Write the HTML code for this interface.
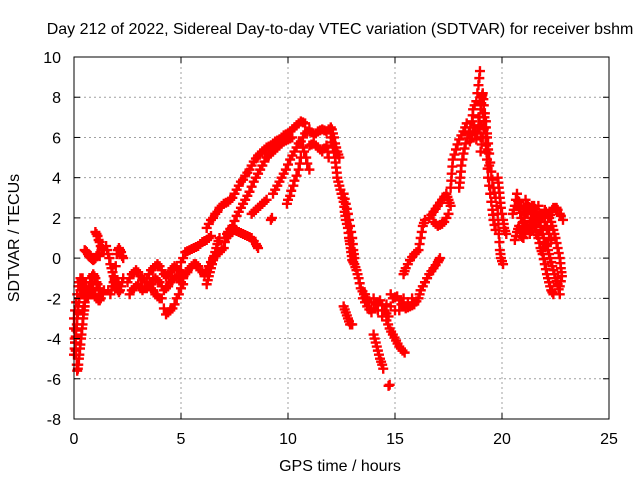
<!DOCTYPE html>
<html><head><meta charset="utf-8"><style>
body{margin:0;background:#fff;}
svg{display:block;font-family:"Liberation Sans",sans-serif;}
</style></head><body>
<svg id="chart" width="640" height="480" viewBox="0 0 640 480">
<text x="340" y="34" font-size="16" text-anchor="middle">Day 212 of 2022, Sidereal Day-to-day VTEC variation (SDTVAR) for receiver bshm</text>
<g id="grid"></g>
<g id="marks"></g>
<rect x="74" y="57" width="535" height="362" fill="none" stroke="#000" stroke-width="1"/>
<g id="ticks"></g>
<text x="340" y="471" font-size="16" text-anchor="middle">GPS time / hours</text>
<text x="19" y="238" font-size="16" text-anchor="middle" transform="rotate(-90 19 238)">SDTVAR / TECUs</text>
</svg>
<script>
const xTicks=[0,5,10,15,20,25];
const yTicks=[-8,-6,-4,-2,0,2,4,6,8,10];
const tracks=[
[[0.0,-3.5],[0.03,-4.0],[0.05,-4.2],[0.08,-4.6],[0.1,-4.8],[0.13,-5.3],[0.15,-5.6],[0.18,-5.5],[0.2,-5.3],[0.23,-5.0],[0.25,-4.8],[0.28,-4.5],[0.3,-4.3],[0.33,-4.0],[0.35,-3.8],[0.38,-3.5],[0.4,-3.3],[0.43,-3.0],[0.45,-2.8],[0.48,-2.6],[0.5,-2.4]],
[[0.0,-4.8],[0.03,-4.5],[0.05,-4.2],[0.08,-3.9],[0.1,-3.6],[0.13,-3.3],[0.15,-3.0],[0.18,-2.7],[0.2,-2.4],[0.23,-2.2],[0.25,-2.0],[0.28,-1.8],[0.3,-1.6],[0.33,-1.4],[0.35,-1.2],[0.38,-1.1],[0.4,-1.0]],
[[0.0,-3.0],[0.05,-2.6],[0.1,-2.2],[0.15,-1.8],[0.2,-1.4],[0.25,-1.2],[0.3,-1.0],[0.35,-1.1],[0.4,-1.3],[0.45,-1.5],[0.5,-1.7],[0.55,-1.9],[0.6,-2.0],[0.65,-1.9],[0.7,-1.8],[0.75,-1.6],[0.8,-1.5],[0.85,-1.5],[0.9,-1.6],[0.95,-1.8],[1.0,-1.9],[1.05,-2.0],[1.1,-2.0],[1.15,-2.1],[1.2,-2.1],[1.25,-2.0],[1.3,-1.8],[1.35,-1.7],[1.4,-1.6]],
[[0.4,-2.6],[0.45,-2.4],[0.5,-2.2],[0.55,-2.0],[0.6,-1.8],[0.65,-1.6],[0.7,-1.4],[0.75,-1.2],[0.8,-1.0],[0.85,-0.9],[0.9,-0.8],[0.95,-0.9],[1.0,-1.0],[1.05,-1.2],[1.1,-1.3],[1.15,-1.5],[1.2,-1.6]],
[[0.5,0.4],[0.55,0.35],[0.6,0.3],[0.65,0.2],[0.7,0.1],[0.75,0.05],[0.8,0.0],[0.85,-0.05],[0.9,-0.1],[0.95,-0.05],[1.0,0.0],[1.05,0.1],[1.1,0.2],[1.15,0.15],[1.2,0.1]],
[[1.0,1.3],[1.05,1.2],[1.1,1.1],[1.15,0.9],[1.2,0.8],[1.25,0.6],[1.3,0.5],[1.35,0.45],[1.4,0.4]],
[[1.5,0.6],[1.55,0.4],[1.6,0.2],[1.65,0.0],[1.7,-0.3],[1.75,-0.5],[1.8,-0.7],[1.85,-0.9],[1.9,-1.1],[1.95,-1.3],[2.0,-1.5],[2.05,-1.6],[2.1,-1.7],[2.15,-1.6],[2.2,-1.4],[2.25,-1.2],[2.3,-1.0]],
[[1.6,-1.6],[1.7,-1.8],[1.75,-1.6],[1.8,-1.4],[1.85,-1.2],[1.9,-1.0],[1.95,-0.4],[2.0,0.2],[2.05,0.4],[2.1,0.5],[2.15,0.4],[2.2,0.3],[2.25,0.1],[2.3,0.0]],
[[2.5,-1.2],[2.6,-1.0],[2.7,-0.8],[2.8,-0.7],[2.9,-0.6],[3.0,-0.7],[3.1,-0.9],[3.2,-1.0],[3.3,-1.2],[3.4,-1.0],[3.5,-0.8],[3.6,-0.6],[3.7,-0.5],[3.8,-0.4],[3.9,-0.3],[4.0,-0.4],[4.1,-0.6],[4.2,-0.8],[4.3,-0.9],[4.4,-0.8],[4.5,-0.7],[4.6,-0.5],[4.7,-0.4],[4.8,-0.5],[4.9,-0.6],[5.0,-0.7],[5.1,-0.8]],
[[2.6,-1.8],[2.7,-1.6],[2.8,-1.5],[2.9,-1.4],[3.0,-1.3],[3.1,-1.5],[3.2,-1.6],[3.3,-1.5],[3.4,-1.5],[3.5,-1.4],[3.6,-1.3],[3.7,-1.1],[3.8,-1.0],[3.9,-1.1],[4.0,-1.2],[4.1,-1.4],[4.2,-1.6],[4.3,-1.5],[4.4,-1.4],[4.5,-1.2],[4.6,-1.1],[4.7,-1.0],[4.8,-0.9],[4.9,-1.0],[5.0,-1.2]],
[[3.5,-1.4],[3.6,-1.5],[3.7,-1.6],[3.8,-1.8],[3.9,-1.9],[4.0,-2.0],[4.1,-2.0],[4.2,-2.5],[4.3,-2.8],[4.4,-2.7],[4.5,-2.6],[4.6,-2.5],[4.7,-2.3],[4.8,-2.0],[4.9,-1.8],[5.0,-1.5],[5.1,-1.3]],
[[5.0,-0.2],[5.1,0.0],[5.2,0.3],[5.3,0.35],[5.4,0.4],[5.5,0.45],[5.6,0.5],[5.7,0.55],[5.8,0.6],[5.9,0.7],[6.0,0.8],[6.1,0.85],[6.2,0.9],[6.3,1.0],[6.4,1.1]],
[[5.1,-1.0],[5.2,-0.8],[5.3,-0.7],[5.4,-0.5],[5.5,-0.4],[5.6,-0.3],[5.7,-0.3],[5.8,-0.4],[5.9,-0.6],[6.0,-0.7],[6.1,-0.9],[6.15,-0.7],[6.2,-0.6]],
[[6.2,1.5],[6.3,1.7],[6.4,1.9],[6.5,2.0],[6.6,2.2],[6.7,2.3],[6.8,2.5],[6.9,2.6],[7.0,2.7],[7.1,2.75],[7.2,2.8],[7.3,2.9],[7.4,3.0],[7.5,3.2],[7.6,3.4],[7.7,3.6],[7.8,3.8],[7.9,3.9],[8.0,4.1],[8.1,4.25],[8.2,4.4],[8.3,4.6],[8.4,4.8],[8.5,4.95],[8.6,5.1],[8.7,5.2],[8.8,5.3],[8.9,5.4],[9.0,5.5],[9.1,5.55],[9.2,5.6],[9.3,5.7],[9.4,5.8],[9.5,5.85],[9.6,5.9],[9.7,6.0],[9.8,6.1],[9.9,6.15],[10.0,6.2],[10.1,6.3],[10.2,6.4],[10.3,6.5],[10.4,6.6],[10.5,6.7],[10.6,6.8],[10.7,6.75],[10.8,6.7]],
[[6.2,-0.6],[6.3,-0.4],[6.4,-0.2],[6.5,0.0],[6.6,0.1],[6.7,0.2],[6.8,0.3],[6.9,0.4],[7.0,0.5],[7.05,0.8],[7.1,1.0],[7.15,1.2],[7.2,1.3],[7.3,1.45],[7.4,1.6],[7.5,1.85],[7.6,2.1],[7.7,2.3],[7.8,2.5],[7.9,2.7],[8.0,2.9],[8.1,3.1],[8.2,3.3],[8.3,3.55],[8.4,3.8],[8.5,4.0],[8.6,4.2],[8.7,4.4],[8.8,4.6],[8.9,4.8],[9.0,5.0],[9.1,5.1],[9.2,5.2],[9.3,5.3],[9.4,5.4],[9.5,5.5],[9.6,5.6],[9.7,5.7],[9.8,5.8],[9.9,5.85],[10.0,5.9],[10.1,5.95],[10.2,6.0]],
[[6.2,-1.3],[6.25,-1.1],[6.3,-0.9],[6.35,-0.7],[6.4,-0.5],[6.45,-0.3],[6.5,-0.1],[6.55,0.1],[6.6,0.3],[6.65,0.5],[6.7,0.7],[6.75,0.85],[6.8,1.0]],
[[7.1,1.0],[7.2,1.1],[7.3,1.2],[7.4,1.3],[7.5,1.4],[7.6,1.35],[7.7,1.3],[7.8,1.25],[7.9,1.2],[8.0,1.15],[8.1,1.1],[8.2,1.05],[8.3,1.0],[8.4,0.85],[8.5,0.7],[8.55,0.6],[8.6,0.5]],
[[8.3,2.2],[8.4,2.3],[8.5,2.4],[8.6,2.5],[8.7,2.6],[8.8,2.7],[8.9,2.8],[9.0,2.9],[9.2,1.9],[9.25,2.0]],
[[9.3,3.2],[9.4,3.4],[9.5,3.6],[9.6,3.8],[9.7,4.0],[9.8,4.2],[9.9,4.4],[10.0,4.65],[10.1,4.9],[10.2,5.1],[10.3,5.3],[10.4,5.5],[10.5,5.7]],
[[9.95,2.7],[10.0,2.9],[10.1,3.1],[10.15,3.35],[10.25,3.6],[10.3,3.85],[10.4,4.1],[10.5,4.4],[10.55,4.7],[10.6,5.0],[10.7,5.5],[10.75,5.3],[10.85,5.0],[10.9,4.7],[11.0,4.4]],
[[10.6,5.8],[10.7,6.0],[10.8,6.2],[10.9,6.3],[11.0,6.4],[11.1,6.25],[11.2,6.1],[11.3,6.2],[11.4,6.3],[11.5,6.35],[11.6,6.4],[11.7,6.35],[11.8,6.3],[11.9,6.4],[12.0,6.5],[12.05,6.4],[12.1,6.2],[12.15,6.0],[12.2,5.7],[12.25,5.5],[12.3,5.3],[12.35,5.15],[12.4,5.0]],
[[11.0,5.6],[11.1,5.65],[11.2,5.7],[11.3,5.6],[11.4,5.5],[11.5,5.4],[11.6,5.3],[11.7,5.45],[11.8,5.6],[11.85,5.3],[11.9,5.0]],
[[12.0,6.0],[12.05,5.75],[12.1,5.5],[12.15,5.25],[12.2,5.0],[12.22,4.75],[12.25,4.5],[12.28,4.25],[12.3,4.0],[12.35,3.8],[12.4,3.6],[12.45,3.4],[12.5,3.2],[12.55,3.0],[12.6,2.8],[12.63,2.55],[12.65,2.3],[12.68,2.1],[12.7,1.9],[12.75,1.7],[12.8,1.5],[12.83,1.25],[12.85,1.0],[12.88,0.85],[12.9,0.7],[12.93,0.5],[12.95,0.3],[12.98,0.1],[13.0,-0.1],[13.05,-0.2],[13.1,-0.3],[13.15,-0.45],[13.2,-0.6],[13.25,-0.8],[13.3,-1.0],[13.35,-1.25],[13.4,-1.5],[13.48,-1.65],[13.55,-1.8],[13.62,-1.95],[13.7,-2.1]],
[[12.6,3.2],[12.65,2.95],[12.7,2.7],[12.75,2.45],[12.8,2.2],[12.85,1.9],[12.9,1.6],[12.95,1.3],[13.0,1.0],[13.03,0.7],[13.05,0.4],[13.08,0.2],[13.1,0.0]],
[[12.6,-2.4],[12.65,-2.55],[12.7,-2.7],[12.75,-2.85],[12.8,-3.0],[12.85,-3.15],[12.9,-3.3],[12.95,-3.3],[13.0,-3.3]],
[[13.5,-2.0],[13.6,-2.2],[13.7,-2.4],[13.8,-2.55],[13.9,-2.7],[14.0,-2.5],[14.1,-2.3],[14.2,-2.2],[14.3,-2.1],[14.4,-2.35],[14.5,-2.6],[14.6,-2.75],[14.7,-2.9],[14.8,-2.4],[14.9,-2.0],[15.0,-1.95],[15.1,-1.9],[15.2,-2.1],[15.3,-2.3],[15.4,-2.4],[15.5,-2.5],[15.6,-2.45],[15.7,-2.4],[15.8,-2.35],[15.9,-2.3],[16.0,-2.15],[16.1,-2.0],[16.15,-1.8],[16.2,-1.6]],
[[13.6,-1.8],[13.8,-2.2],[14.0,-2.0],[14.2,-2.6],[14.4,-2.9],[14.6,-2.3],[14.8,-1.8],[15.0,-2.6],[15.2,-2.6],[15.4,-2.0],[15.6,-2.2],[15.8,-2.0]],
[[14.0,-3.8],[14.05,-4.0],[14.1,-4.2],[14.15,-4.4],[14.2,-4.6],[14.25,-4.8],[14.3,-5.0],[14.35,-5.15],[14.4,-5.3],[14.45,-5.5]],
[[14.6,-3.1],[14.68,-3.3],[14.75,-3.5],[14.82,-3.65],[14.9,-3.8],[14.98,-3.95],[15.05,-4.1],[15.12,-4.25],[15.2,-4.4],[15.28,-4.5],[15.35,-4.6],[15.45,-4.7]],
[[14.7,-6.35],[14.75,-6.3]],
[[16.2,-1.6],[16.3,-1.4],[16.4,-1.2],[16.5,-1.0],[16.6,-0.8],[16.7,-0.65],[16.8,-0.5],[16.9,-0.35],[17.0,-0.2],[17.05,-0.1],[17.1,0.0]],
[[15.4,-0.8],[15.45,-0.65],[15.5,-0.5],[15.6,-0.3],[15.7,-0.1],[15.8,0.05],[15.9,0.2],[16.0,0.3],[16.1,0.4],[16.15,0.7],[16.2,1.0],[16.25,1.3],[16.3,1.6],[16.35,1.75],[16.4,1.9]],
[[16.6,2.0],[16.7,2.15],[16.8,2.3],[16.9,2.45],[17.0,2.6],[17.1,2.75],[17.2,2.9],[17.3,3.05],[17.4,3.2],[17.45,3.05],[17.5,2.9],[17.55,2.75],[17.6,2.6],[17.5,2.2],[17.4,2.0],[17.3,1.8],[17.2,1.7],[17.1,1.65],[17.0,1.6],[16.9,1.7],[16.8,1.8]],
[[17.6,3.5],[17.63,3.85],[17.65,4.2],[17.68,4.55],[17.7,4.9],[17.78,5.15],[17.85,5.4],[17.92,5.65],[18.0,5.9],[18.1,6.1],[18.2,6.3],[18.28,6.5],[18.35,6.7]],
[[18.0,3.5],[18.03,3.75],[18.05,4.0],[18.08,4.3],[18.1,4.6],[18.15,4.9],[18.2,5.2],[18.25,5.45],[18.3,5.7],[18.38,5.95],[18.45,6.2],[18.52,6.5],[18.6,6.8],[18.63,7.1],[18.65,7.4],[18.72,7.6],[18.8,7.8],[18.85,8.2],[18.9,8.6],[18.94,8.95],[18.97,9.3]],
[[18.5,5.8],[18.55,5.95],[18.6,6.1],[18.65,6.3],[18.7,6.5],[18.75,6.2],[18.8,5.9],[18.85,6.25],[18.9,6.6],[18.95,7.0],[19.0,7.4],[19.03,7.7],[19.05,8.0],[19.08,8.1],[19.1,8.2],[19.13,7.9],[19.15,7.6],[19.18,7.0],[19.2,6.5],[19.23,6.0],[19.25,5.6],[19.28,5.25],[19.3,4.9],[19.33,4.45],[19.35,4.0],[19.4,3.6],[19.45,3.2],[19.5,2.8],[19.55,2.4],[19.58,2.15],[19.6,1.9],[19.65,1.65],[19.7,1.4]],
[[18.9,7.0],[18.95,6.5],[19.0,6.0],[19.05,6.6],[19.1,7.2],[19.15,6.8],[19.2,7.2],[19.25,6.8],[19.3,6.0],[19.35,5.4],[19.4,4.6]],
[[19.0,5.3],[19.05,5.65],[19.1,6.0],[19.15,6.4],[19.2,6.8],[19.25,6.5],[19.3,6.2],[19.35,5.7],[19.4,5.2],[19.45,4.75],[19.5,4.3],[19.55,3.9],[19.6,3.5],[19.65,3.25],[19.7,3.0],[19.75,2.6],[19.8,2.2],[19.83,1.7],[19.85,1.2],[19.88,0.8],[19.9,0.4],[19.93,0.2],[19.95,0.0],[20.0,-0.15],[20.05,-0.3]],
[[19.8,4.0],[19.83,3.75],[19.85,3.5],[19.88,3.25],[19.9,3.0],[19.93,2.75],[19.95,2.5],[20.0,2.2],[20.05,1.9],[20.08,1.7],[20.1,1.5],[20.15,1.35],[20.2,1.2]],
[[20.5,2.2],[20.55,2.4],[20.6,2.6],[20.65,2.9],[20.7,3.2],[20.75,2.85],[20.8,2.5],[20.85,2.25],[20.9,2.0],[20.95,1.75],[21.0,1.5],[21.05,1.85],[21.1,2.2],[21.15,2.45],[21.2,2.7],[21.25,2.55],[21.3,2.4],[21.35,2.2],[21.4,2.0],[21.45,2.3],[21.5,2.6],[21.55,2.45],[21.6,2.3],[21.65,2.05],[21.7,1.8],[21.75,2.0],[21.8,2.2],[21.85,2.1],[21.9,2.0],[21.95,2.2],[22.0,2.4],[22.05,2.3],[22.1,2.2],[22.15,2.1],[22.2,2.0],[22.25,2.15],[22.3,2.3],[22.35,2.4],[22.4,2.5],[22.5,2.5],[22.55,2.5],[22.6,2.4],[22.7,2.2],[22.75,2.1],[22.85,1.9]],
[[20.6,0.9],[20.65,1.1],[20.7,1.3],[20.75,1.45],[20.8,1.6],[20.85,1.35],[20.9,1.1],[20.95,1.05],[21.0,1.0],[21.05,1.2],[21.1,1.4],[21.15,1.5],[21.2,1.6],[21.25,1.4],[21.3,1.2],[21.35,1.35],[21.4,1.5],[21.45,1.65],[21.5,1.8],[21.55,1.55],[21.6,1.3],[21.65,1.15],[21.7,1.0],[21.75,0.75],[21.8,0.5],[21.85,0.35],[21.9,0.2],[21.95,-0.05],[22.0,-0.3],[22.05,-0.55],[22.1,-0.8],[22.15,-1.0],[22.2,-1.2],[22.25,-1.4],[22.3,-1.6],[22.35,-1.7],[22.4,-1.8]],
[[20.8,2.8],[20.9,2.6],[21.0,2.3],[21.1,2.9],[21.2,2.2],[21.3,1.8],[21.4,2.6],[21.5,2.2],[21.6,1.9],[21.7,2.6],[21.8,1.8],[21.9,1.4],[22.0,1.8],[22.1,1.5],[22.2,1.2],[22.3,0.9]],
[[21.8,1.6],[21.85,1.4],[21.9,1.2],[21.95,1.0],[22.0,0.8],[22.05,0.7],[22.1,0.6],[22.15,0.4],[22.2,0.2],[22.25,0.0],[22.3,-0.2],[22.35,-0.4],[22.4,-0.6],[22.45,-0.8],[22.5,-1.0],[22.55,-1.15],[22.6,-1.3],[22.65,-1.55],[22.7,-1.8]],
[[22.3,1.8],[22.35,1.6],[22.4,1.4],[22.45,1.2],[22.5,1.0],[22.55,0.75],[22.6,0.5],[22.65,0.25],[22.7,0.0],[22.73,-0.25],[22.75,-0.5],[22.78,-0.7],[22.8,-0.9],[22.75,-1.15],[22.7,-1.4]]
];
const svgNS="http://www.w3.org/2000/svg";
const X0=74,X1=609,Y0=419,Y1=57;
function xs(h){return X0+(h-0)/(25-0)*(X1-X0);}
function ys(v){return Y0-(v-(-8))/(10-(-8))*(Y0-Y1);}
const grid=document.getElementById('grid');
const ticks=document.getElementById('ticks');
const marks=document.getElementById('marks');
function mk(tag,attrs,parent){const e=document.createElementNS(svgNS,tag);for(const k in attrs)e.setAttribute(k,attrs[k]);parent.appendChild(e);return e;}
xTicks.forEach(t=>{
  const x=xs(t);
  if(t>0&&t<25){const g=mk('line',{x1:x,x2:x,y1:Y1,y2:Y0,stroke:'#a0a0a0','stroke-dasharray':'2,3'},grid);
  
  }
  mk('line',{x1:x,x2:x,y1:Y0,y2:Y0-6,stroke:'#000'},ticks);
  mk('line',{x1:x,x2:x,y1:Y1,y2:Y1+6,stroke:'#000'},ticks);
  const l=mk('text',{x:x,y:Y0+25,'font-size':16,'text-anchor':'middle'},ticks);
  l.textContent=t;
  
  
});
yTicks.forEach(t=>{
  const y=ys(t);
  if(t>-8&&t<10){const g=mk('line',{x1:X0,x2:X1,y1:y,y2:y,stroke:'#a0a0a0','stroke-dasharray':'2,3'},grid);
  
  }
  mk('line',{x1:X0,x2:X0+6,y1:y,y2:y,stroke:'#000'},ticks);
  mk('line',{x1:X1,x2:X1-6,y1:y,y2:y,stroke:'#000'},ticks);
  const l=mk('text',{x:X0-13,y:y+6,'font-size':16,'text-anchor':'end'},ticks);
  l.textContent=t;
  
  
});
tracks.forEach(tr=>{
  tr.forEach(p=>{
    const x=xs(p[0]),y=ys(p[1]);
    const e=mk('path',{d:`M${x-5},${y}h10M${x},${y-5}v10`,stroke:'#f00','stroke-width':2.4,fill:'none'},marks);
    
    
  });
});
</script>
</body></html>
